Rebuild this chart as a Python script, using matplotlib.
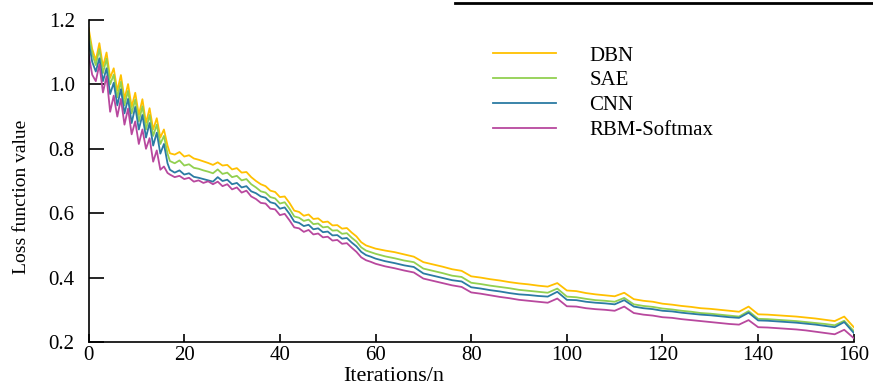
import numpy as np
import matplotlib.pyplot as plt
from matplotlib.lines import Line2D

plt.rcParams['font.family'] = ['Liberation Serif', 'DejaVu Serif']

# iteration grid: fine steps in the early zigzag part, coarser later
iters = np.concatenate([np.arange(0, 17, 0.75), np.arange(17, 61), np.arange(62, 161, 2)])

dbn = [1.175, 1.110, 1.075, 1.128, 1.055, 1.099, 1.020, 1.050, 0.980, 1.029, 0.955, 1.001,
       0.930, 0.974, 0.905, 0.954, 0.880, 0.926, 0.860, 0.895, 0.835, 0.860, 0.810,
       .786, .782, .790, .776, .780, .770, .766, .761, .756, .750, .758, .748, .750, .736, .740,
       .726, .728, .712, .700, .690, .684, .670, .666, .650, .652, .632, .608, .604, .592, .596,
       .582, .584, .572, .574, .562, .563, .552, .554, .540, .528, .510, .500, .495, .490,
       .484, .479, .472, .465, .448, .441, .434, .426, .421, .404, .400, .395, .391, .386, .382,
       .379, .375, .372, .383, .360, .358, .352, .348, .345, .342, .353, .333, .328, .325, .319,
       .316, .312, .309, .305, .303, .300, .297, .294, .310, .286, .285, .283, .281, .279, .276,
       .273, .269, .265, .279, .246]

sae = [1.160, 1.095, 1.060, 1.110, 1.035, 1.080, 1.000, 1.030, 0.960, 1.008, 0.935, 0.980,
       0.910, 0.953, 0.885, 0.932, 0.860, 0.905, 0.840, 0.875, 0.815, 0.840, 0.785,
       .762, .755, .764, .748, .752, .741, .738, .733, .729, .724, .736, .722, .726, .712, .716,
       .702, .706, .690, .680, .668, .664, .650, .646, .630, .634, .614, .590, .586, .576, .580,
       .566, .568, .556, .558, .546, .547, .536, .538, .524, .512, .494, .484, .479, .474,
       .466, .460, .453, .448, .428, .421, .414, .406, .402, .384, .380, .375, .371, .367, .362,
       .359, .356, .353, .366, .341, .339, .334, .330, .328, .325, .337, .317, .312, .309, .304,
       .301, .297, .294, .290, .288, .285, .282, .279, .296, .272, .271, .269, .267, .265, .262,
       .259, .256, .252, .266, .234]

cnn = [1.133, 1.070, 1.040, 1.081, 1.010, 1.050, 0.970, 1.005, 0.935, 0.985, 0.910, 0.955,
       0.880, 0.930, 0.860, 0.905, 0.835, 0.880, 0.810, 0.850, 0.785, 0.815, 0.755,
       .735, .726, .733, .720, .724, .713, .710, .706, .702, .698, .712, .700, .704, .690, .694,
       .680, .684, .668, .662, .652, .648, .634, .630, .614, .618, .598, .574, .570, .560, .564,
       .550, .553, .541, .543, .531, .532, .521, .523, .509, .497, .480, .470, .465, .459,
       .451, .445, .438, .433, .413, .406, .399, .392, .388, .370, .366, .361, .357, .352, .348,
       .346, .343, .341, .356, .331, .330, .325, .322, .320, .317, .330, .310, .305, .302, .297,
       .295, .291, .288, .285, .283, .280, .277, .275, .291, .267, .266, .264, .262, .260, .257,
       .254, .250, .246, .262, .228]

rbm = [1.093, 1.030, 1.010, 1.062, 0.975, 1.025, 0.915, 0.965, 0.900, 0.955, 0.875, 0.925,
       0.845, 0.885, 0.815, 0.860, 0.800, 0.833, 0.760, 0.795, 0.735, 0.745, 0.725,
       .720, .712, .716, .706, .710, .698, .702, .694, .699, .690, .698, .684, .690, .674, .680,
       .664, .670, .652, .644, .632, .630, .614, .612, .594, .598, .578, .556, .553, .542, .548,
       .534, .537, .525, .527, .515, .517, .505, .507, .493, .480, .463, .454, .449, .443,
       .435, .429, .422, .416, .397, .390, .383, .376, .371, .354, .350, .345, .340, .336, .331,
       .328, .325, .322, .335, .311, .310, .305, .302, .300, .297, .310, .290, .285, .282, .277,
       .275, .271, .268, .265, .262, .259, .256, .254, .268, .246, .245, .243, .241, .239, .236,
       .232, .228, .224, .238, .212]

names = ['DBN', 'SAE', 'CNN', 'RBM-Softmax']
colors = ['#FFC000', '#92D050', '#2B7BA3', '#B8489E']

fig = plt.figure(figsize=(8.73, 3.89), dpi=100)
ax = fig.add_axes([0.1015, 0.1208, 0.8765, 0.8278])

for vals, name, c in zip([dbn, sae, cnn, rbm], names, colors):
    ax.plot(iters, vals, color=c, lw=1.3, label=name)

ax.set_xlim(0, 160)
ax.set_ylim(0.2, 1.2)
ax.set_xticks(np.arange(0, 161, 20))
ax.set_yticks(np.arange(0.2, 1.21, 0.2))
ax.set_yticklabels([f'{v:.1f}' for v in np.arange(0.2, 1.21, 0.2)])
ax.spines['top'].set_visible(False)
ax.spines['right'].set_visible(False)
for s in ['left', 'bottom']:
    ax.spines[s].set_linewidth(1.2)
ax.tick_params(axis='y', direction='in', length=11, width=1.2, pad=10, labelsize=15)
ax.tick_params(axis='x', direction='in', length=6, width=1.2, pad=3, labelsize=15)

ax.set_xlabel('Iterations/n', fontsize=16)
ax.xaxis.set_label_coords(0.399, -0.078)
ax.set_ylabel('Loss function value', fontsize=14)
ax.yaxis.set_label_coords(-0.077, 0.45)

ax.legend(loc='upper left', bbox_to_anchor=(0.518, 0.945), frameon=False, fontsize=15,
          handlelength=3.0, handletextpad=1.6, labelspacing=0.25, borderaxespad=0)

# stray rule at the very top of the image
fig.add_artist(Line2D([455 / 873, 1.0], [1 - 2.5 / 389, 1 - 2.5 / 389], color='black', lw=2))

fig.savefig('out.png', dpi=100)
